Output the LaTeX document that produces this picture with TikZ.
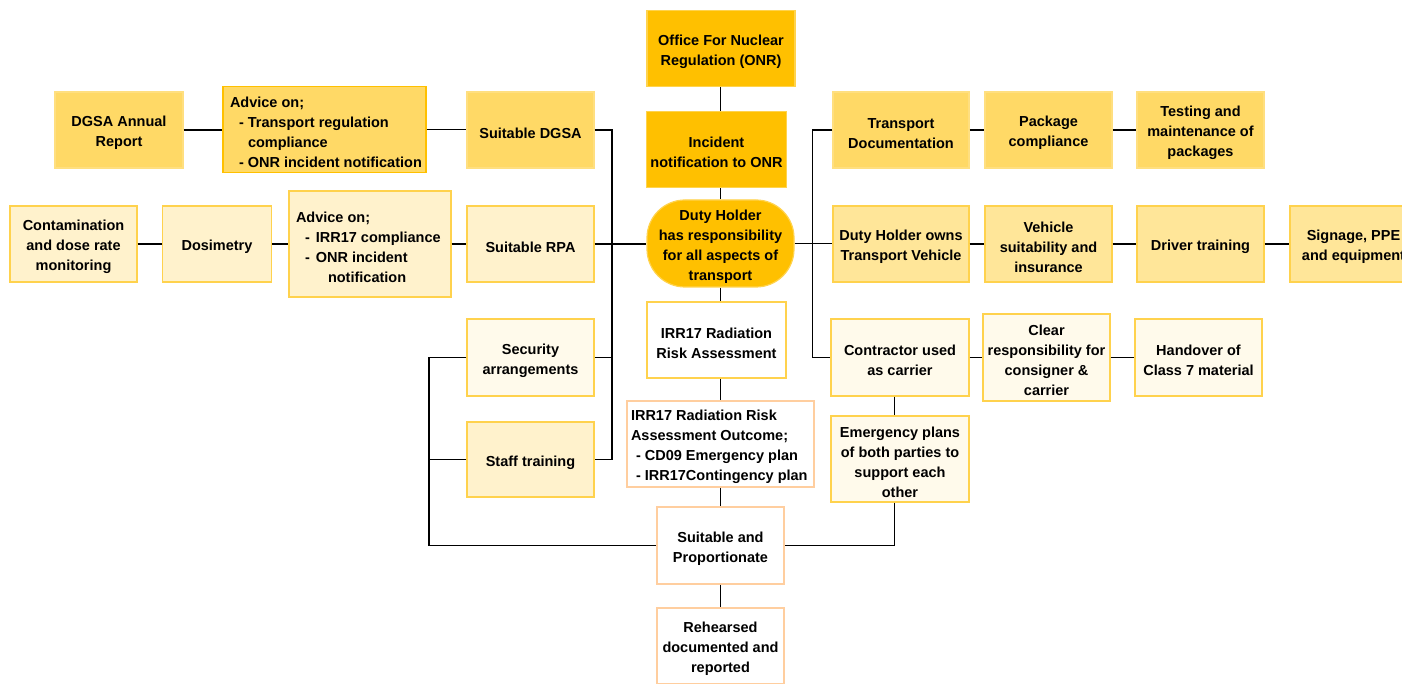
\documentclass[tikz,border=0pt]{standalone}
\usepackage{fontspec}
\setmainfont{Liberation Sans}
\definecolor{amber}{HTML}{FFC000}
\definecolor{amberb}{HTML}{FFD34D}
\definecolor{gold}{HTML}{FFD966}
\definecolor{goldb}{HTML}{FFDF80}
\definecolor{lgold}{HTML}{FFE699}
\definecolor{cream}{HTML}{FFF2CC}
\definecolor{pale}{HTML}{FFFAEB}
\definecolor{peach}{HTML}{FFCE9F}
\definecolor{ybord}{HTML}{FFD24D}
\newcommand{\boxtopstrut}{\rule{0pt}{16.5pt}}
\tikzset{
  bx/.style={draw, rectangle, line width=1.2pt, inner ysep=2pt, inner xsep=0pt, align=flush center,
    font=\fontsize{14.5}{20}\selectfont\bfseries,
    execute at begin node=\boxtopstrut, text=black},
  sz/.style 2 args={minimum width=#1pt, minimum height=#2pt, text width=#1pt},
  lft/.style 2 args={align=flush left, inner xsep=#1pt, text width=#2pt},
  conn/.style={line width=1.2pt, black},
  cAmber/.style={fill=amber, draw=amberb},
  cGold/.style={fill=gold, draw=goldb},
  cLgold/.style={fill=lgold, draw=ybord},
  cCream/.style={fill=cream, draw=ybord},
  cPale/.style={fill=pale, draw=ybord},
  cWhiteY/.style={fill=white, draw=ybord},
  cWhiteP/.style={fill=white, draw=peach}
}
\begin{document}
\hyphenpenalty=10000
\exhyphenpenalty=10000
\hbadness=10000
\hfuzz=50pt
\begin{tikzpicture}[x=1pt, y=-1pt]
\useasboundingbox (0,0) rectangle (1402,684);
% centre column
\node[bx, cAmber, sz={148}{76}] (onr) at (721,48.5) {Office For Nuclear\\Regulation (ONR)};
\node[bx, cAmber, sz={140}{76}] (inc) at (716.5,149.5) {Incident\\notification to ONR};
\node[bx, cAmber, sz={147}{87}, rounded corners=38pt] (duty) at (720.5,243.5) {Duty Holder\\has responsibility\\for all aspects of\\transport};
\node[bx, cWhiteY, sz={139}{76}] (irr) at (716.5,340) {IRR17 Radiation\\Risk Assessment};
\node[bx, cWhiteP, sz={187}{86}, lft={4}{179}] (outc) at (720.5,444) {IRR17 Radiation Risk\\Assessment Outcome;\\\hspace*{5pt}- CD09 Emergency plan\\\hspace*{5pt}\mbox{- IRR17Contingency plan}};
\node[bx, cWhiteP, sz={127}{77}] (suit) at (720.5,545.5) {Suitable and\\Proportionate};
\node[bx, cWhiteP, sz={127}{76}] (reh) at (720.5,646) {Rehearsed\\documented and\\reported};
% left top row
\node[bx, cGold, sz={128}{76}] (dgsaAR) at (119,130) {DGSA Annual\\Report};
\node[bx, cGold, draw=amber, sz={203}{86}, lft={7}{189}] (advD) at (324.5,129.5) {Advice on;\\\hspace*{9pt}- Transport regulation\\\hspace*{18pt}compliance\\\hspace*{9pt}\mbox{- ONR incident notification}};
\node[bx, cGold, sz={127}{76}] (sDGSA) at (530.5,130) {Suitable DGSA};
% left middle row
\node[bx, cCream, sz={127}{76}] (cont) at (73.5,244) {Contamination\\and dose rate\\monitoring};
\node[bx, cCream, sz={109}{76}] (dos) at (217,244) {Dosimetry};
\node[bx, cCream, sz={162}{106}, lft={7}{148}] (advR) at (370,244) {Advice on;\\\hspace*{9pt}-\hspace*{6pt}IRR17 compliance\\\hspace*{9pt}-\hspace*{6pt}ONR incident\\\hspace*{32pt}notification};
\node[bx, cCream, sz={127}{76}] (sRPA) at (530.5,244) {Suitable RPA};
\node[bx, cPale, sz={127}{77}] (sSec) at (530.5,357.5) {Security\\arrangements};
\node[bx, cCream, sz={127}{75}] (sStaff) at (530.5,459.5) {Staff training};
% right top row
\node[bx, cGold, sz={136}{76}] (tdoc) at (901,130) {Transport\\Documentation};
\node[bx, cGold, sz={127}{76}] (pkg) at (1048.5,130) {Package\\compliance};
\node[bx, cGold, sz={127}{76}] (test) at (1200.5,130) {Testing and\\maintenance of\\packages};
% right middle row
\node[bx, cLgold, sz={136}{76}] (owns) at (901,244) {Duty Holder owns\\Transport Vehicle};
\node[bx, cLgold, sz={127}{76}] (veh) at (1048.5,244) {Vehicle\\suitability and\\insurance};
\node[bx, cLgold, sz={127}{76}] (drv) at (1200.5,244) {Driver training};
\node[bx, cLgold, sz={127}{76}] (sign) at (1353.5,244) {Signage, PPE\\and equipment};
% right lower
\node[bx, cPale, sz={138}{77}] (contr) at (900,357.5) {Contractor used\\as carrier};
\node[bx, cPale, sz={127}{87}] (clear) at (1046.5,357.5) {Clear\\responsibility for\\consigner \&\\carrier};
\node[bx, cPale, sz={127}{77}] (hand) at (1198.5,357.5) {Handover of\\Class 7 material};
\node[bx, cPale, sz={138}{86}] (emerg) at (900,459) {Emergency plans\\of both parties to\\support each\\other};
% bus coordinates
\coordinate (vc) at (720.7,0);
\coordinate (busL) at (612,0);
\coordinate (busR) at (812.5,0);
\coordinate (bl) at (429,0);
\coordinate (ve) at (894.5,0);
% connectors centre column
\draw[conn] (onr.south -| vc) -- (inc.north -| vc);
\draw[conn] (inc.south -| vc) -- (duty.north -| vc);
\draw[conn] (duty.south -| vc) -- (irr.north -| vc);
\draw[conn] (irr.south -| vc) -- (outc.north -| vc);
\draw[conn] (outc.south -| vc) -- (suit.north -| vc);
\draw[conn] (suit.south -| vc) -- (reh.north -| vc);
% left
\draw[conn] (dgsaAR.east) -- (advD.west |- dgsaAR.east);
\draw[conn] (advD.east) -- (sDGSA.west |- advD.east);
\draw[conn] (sDGSA.east) -- (sDGSA.east -| busL) -- (sStaff.east -| busL) -- (sStaff.east);
\draw[conn] (sSec.east) -- (sSec.east -| busL);
\draw[conn] (cont.east) -- (dos.west);
\draw[conn] (dos.east) -- (advR.west);
\draw[conn] (advR.east) -- (sRPA.west);
\draw[conn] (sRPA.east) -- (duty.west |- sRPA.east);
\draw[conn] (sSec.west) -- (sSec.west -| bl) -- (suit.west -| bl) -- (suit.west);
\draw[conn] (sStaff.west) -- (sStaff.west -| bl);
% right
\draw[conn] (tdoc.west) -- (tdoc.west -| busR) -- (contr.west -| busR) -- (contr.west);
\draw[conn] (duty.east) -- (owns.west |- duty.east);
\draw[conn] (tdoc.east) -- (pkg.west);
\draw[conn] (pkg.east) -- (test.west);
\draw[conn] (owns.east) -- (veh.west);
\draw[conn] (veh.east) -- (drv.west);
\draw[conn] (drv.east) -- (sign.west);
\draw[conn] (contr.east) -- (clear.west |- contr.east);
\draw[conn] (clear.east) -- (hand.west |- clear.east);
\draw[conn] (contr.south -| ve) -- (emerg.north -| ve);
\draw[conn] (emerg.south -| ve) |- (suit.east);
\end{tikzpicture}
\end{document}
